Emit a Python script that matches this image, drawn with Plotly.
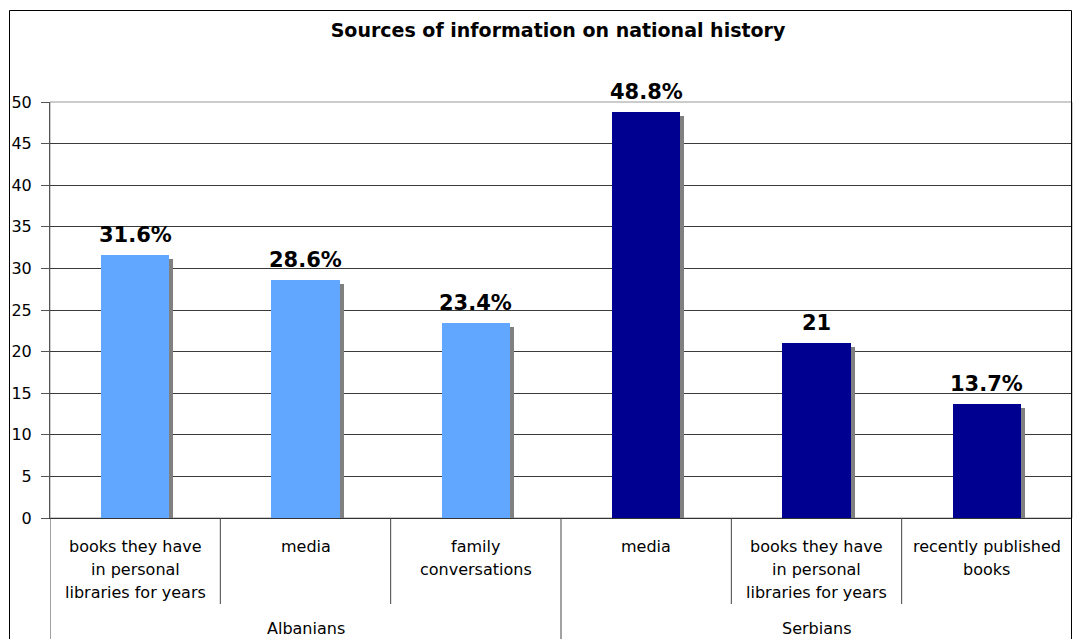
"""Sources of information on national history - grouped bar chart."""

import plotly.graph_objects as go

COLOR_ALB = "#61A6FF"
COLOR_SRB = "#000090"
COLOR_SHADOW = "#808080"
FONT = "DejaVu Sans, Verdana, sans-serif"

groups = ["Albanians", "Serbians"]
category_lines = [
    ["books they have", "in personal", "libraries for years"],
    ["media"],
    ["family", "conversations"],
    ["media"],
    ["books they have", "in personal", "libraries for years"],
    ["recently published", "books"],
]
category_group = [0, 0, 0, 1, 1, 1]
values = [31.6, 28.6, 23.4, 48.8, 21.0, 13.7]
value_labels = ["31.6%", "28.6%", "23.4%", "48.8%", "21", "13.7%"]

# the page body has an 8px margin, so work in window pixels and shift
OFF = 8
W, H = 1083 - OFF, 639 - OFF
PLOT_L, PLOT_R, PLOT_T, PLOT_B = 50 - OFF, 1072 - OFF, 102 - OFF, 518 - OFF
plot_w = PLOT_R - PLOT_L
plot_h = PLOT_B - PLOT_T


def py(win_y):
    """Window pixel row -> paper y."""
    return (PLOT_B - (win_y - OFF)) / plot_h


def px(win_x):
    """Window pixel column -> paper x."""
    return ((win_x - OFF) - PLOT_L) / plot_w


xs = list(range(len(values)))
colors = [COLOR_ALB if g == 0 else COLOR_SRB for g in category_group]
slot_px = plot_w / len(values)
unit_px = plot_h / 50.0

fig = go.Figure()

# drop shadow, shifted right and down by a few pixels
fig.add_trace(
    go.Bar(
        x=xs,
        y=values,
        base=-4 / unit_px,
        width=0.4,
        offset=-0.2 + 4 / slot_px,
        marker={"color": COLOR_SHADOW, "line": {"width": 0}},
        hoverinfo="skip",
        showlegend=False,
    )
)
fig.add_trace(
    go.Bar(
        x=xs,
        y=values,
        width=0.4,
        offset=-0.2,
        marker={"color": colors, "line": {"width": 0}},
        showlegend=False,
    )
)

# value labels above bars
for x, v, lab in zip(xs, values, value_labels):
    fig.add_annotation(
        x=x, y=v, text=f"<b>{lab}</b>", showarrow=False,
        yanchor="bottom", yshift=6,
        font={"family": FONT, "size": 21, "color": "black"},
    )

# category labels, one annotation per line
LINE_Y = [546, 569, 592]
for x, lines in zip(xs, category_lines):
    for li, line in enumerate(lines):
        fig.add_annotation(
            x=x, xref="x", y=py(LINE_Y[li]), yref="paper", text=line,
            showarrow=False, yanchor="middle",
            font={"family": FONT, "size": 16, "color": "black"},
        )

# group labels
for gi, g in enumerate(groups):
    members = [x for x, cg in zip(xs, category_group) if cg == gi]
    fig.add_annotation(
        x=(members[0] + members[-1]) / 2, xref="x", y=py(628), yref="paper",
        text=g, showarrow=False, yanchor="middle",
        font={"family": FONT, "size": 16, "color": "black"},
    )

# dividers below the axis
bounds = [x - 0.5 for x in xs] + [xs[-1] + 0.5]
for i, b in enumerate(bounds):
    group_edge = i == 0 or i == len(bounds) - 1 or category_group[i - 1] != category_group[i]
    fig.add_shape(
        type="line", xref="x", yref="paper",
        x0=b, x1=b, y0=0, y1=py(660) if group_edge else py(604),
        line={"color": "#444444", "width": 1},
    )

# plot area border (gray) and outer chart border (black)
fig.add_shape(
    type="rect", xref="paper", yref="paper", x0=0, x1=1, y0=0, y1=1,
    line={"color": "#999999", "width": 1}, layer="below",
)
fig.add_shape(
    type="rect", xref="paper", yref="paper",
    x0=px(9.5), x1=px(1071.5), y0=py(680), y1=py(10.5),
    line={"color": "black", "width": 1},
)

fig.update_layout(
    width=W,
    height=H,
    margin={"l": PLOT_L, "r": W - PLOT_R, "t": PLOT_T, "b": H - PLOT_B, "pad": 0},
    paper_bgcolor="white",
    plot_bgcolor="white",
    barmode="overlay",
    bargap=0,
    title={
        "text": "<b>Sources of information on national history</b>",
        "x": (558 - OFF) / W,
        "xanchor": "center",
        "y": 1 - (30 - OFF) / H,
        "yanchor": "middle",
        "font": {"family": FONT, "size": 19, "color": "black"},
    },
    font={"family": FONT, "size": 16, "color": "black"},
    showlegend=False,
)
fig.update_xaxes(
    range=[-0.5, 5.5],
    showticklabels=False,
    showgrid=False,
    zeroline=False,
    showline=True,
    linecolor="#333333",
    linewidth=1,
    ticks="",
    automargin=False,
)
fig.update_yaxes(
    range=[0, 50],
    dtick=5,
    showgrid=True,
    gridcolor="#3a3a3a",
    gridwidth=1,
    zeroline=False,
    showline=True,
    linecolor="#555555",
    linewidth=1,
    ticks="outside",
    ticklen=8,
    tickcolor="#555555",
    ticklabelstandoff=6,
    automargin=False,
    tickfont={"family": FONT, "size": 16, "color": "black"},
)

fig.write_html("out.html")
